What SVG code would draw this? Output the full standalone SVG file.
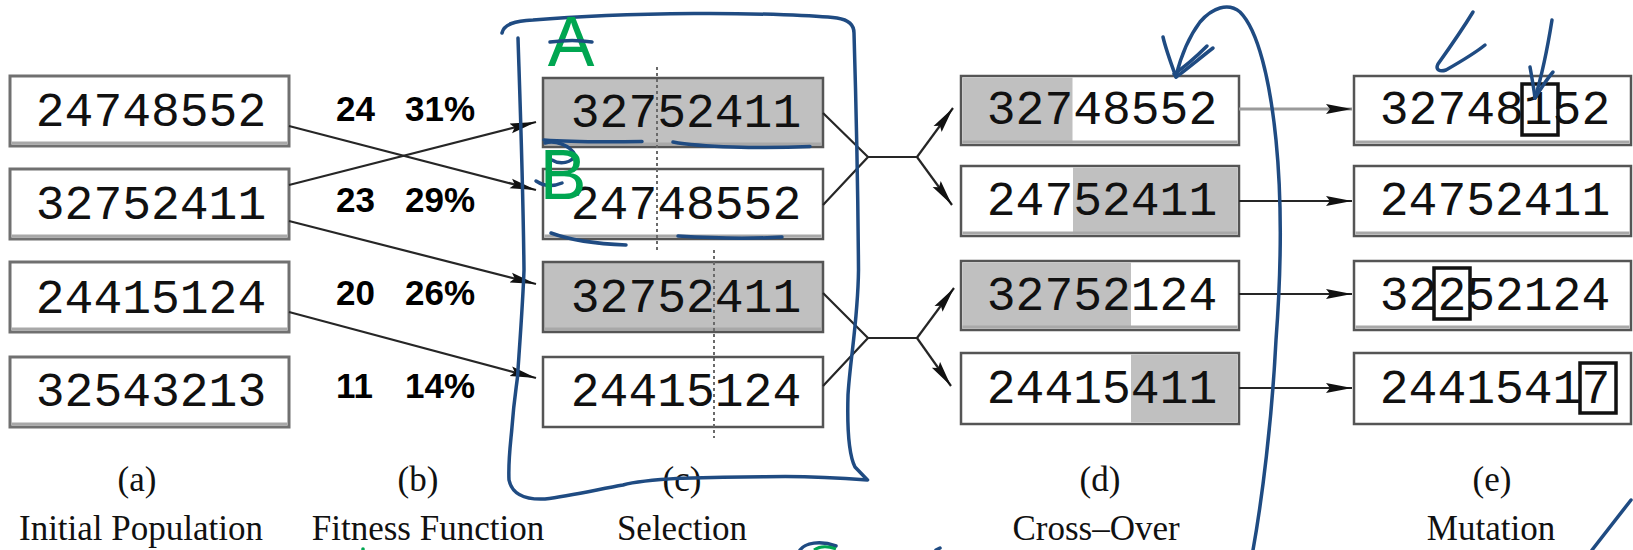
<svg xmlns="http://www.w3.org/2000/svg" width="1633" height="550" viewBox="0 0 1633 550">
  <defs>
    <style>
      .box { fill: #ffffff; stroke: #555555; stroke-width: 2.5; }
      .boxa { fill: #ffffff; stroke: #707070; stroke-width: 3; }
      .shade { fill: #c0c0c0; stroke: none; }
      .foot { stroke: #a8a8a8; stroke-width: 3; }
      .dig { font-family: "Liberation Mono", "Courier New", monospace; font-size: 48px; fill: #111111; text-anchor: middle; }
      .fit { font-family: "Liberation Sans", Arial, sans-serif; font-weight: bold; font-size: 35px; fill: #000000; }
      .lab { font-family: "Liberation Serif", "Times New Roman", serif; font-size: 35px; fill: #111111; text-anchor: middle; }
      .cut { stroke: #6a6a6a; stroke-width: 2; stroke-dasharray: 3 3; fill: none; }
      .mut { fill: none; stroke: #111111; stroke-width: 3.5; }
      .edge { fill: none; stroke: #262626; stroke-width: 2.2; }
      .ink { fill: none; stroke: #1f4b82; stroke-width: 3.5; stroke-linecap: round; stroke-linejoin: round; }
      .hand { font-family: "Liberation Sans", Arial, sans-serif; font-size: 70px; fill: #00a651; text-anchor: middle; }
    </style>
    <marker id="ah" markerUnits="userSpaceOnUse" markerWidth="28" markerHeight="12" refX="26" refY="6" orient="auto">
      <path d="M0,1 L26,6 L0,11 L4,6 z" fill="#111111"/>
    </marker>
  </defs>

  <!-- (a) initial population -->
  <g id="pop1"><rect class="boxa" x="10" y="76" width="279" height="70"/><line class="foot" x1="11.5" y1="143" x2="287.5" y2="143"/><text class="dig" x="151" y="126">24748552</text></g>
  <g id="pop2"><rect class="boxa" x="10" y="169" width="279" height="70"/><line class="foot" x1="11.5" y1="236" x2="287.5" y2="236"/><text class="dig" x="151" y="219">32752411</text></g>
  <g id="pop3"><rect class="boxa" x="10" y="262" width="279" height="70"/><line class="foot" x1="11.5" y1="329" x2="287.5" y2="329"/><text class="dig" x="151" y="313">24415124</text></g>
  <g id="pop4"><rect class="boxa" x="10" y="357" width="279" height="70"/><line class="foot" x1="11.5" y1="424" x2="287.5" y2="424"/><text class="dig" x="151" y="406">32543213</text></g>

  <!-- (b) fitness values -->
  <g id="fit1"><text class="fit" x="336" y="121">24</text><text class="fit" x="405" y="121">31%</text></g>
  <g id="fit2"><text class="fit" x="336" y="212">23</text><text class="fit" x="405" y="212">29%</text></g>
  <g id="fit3"><text class="fit" x="336" y="305">20</text><text class="fit" x="405" y="305">26%</text></g>
  <g id="fit4"><text class="fit" x="336" y="398">11</text><text class="fit" x="405" y="398">14%</text></g>

  <!-- (c) selection -->
  <g id="sel1"><rect class="box" x="543" y="78" width="280" height="69" style="fill:#c0c0c0"/><line class="foot" x1="544.5" y1="144" x2="821.5" y2="144"/><text class="dig" x="686" y="127">32752411</text></g>
  <g id="sel2"><rect class="box" x="543" y="169" width="280" height="70"/><line class="foot" x1="544.5" y1="236" x2="821.5" y2="236"/><text class="dig" x="686" y="219">24748552</text></g>
  <g id="sel3"><rect class="box" x="543" y="262" width="280" height="70" style="fill:#c0c0c0"/><line class="foot" x1="544.5" y1="329" x2="821.5" y2="329"/><text class="dig" x="686" y="312">32752411</text></g>
  <g id="sel4"><rect class="box" x="543" y="357" width="280" height="70"/><text class="dig" x="686" y="406">24415124</text></g>
  <g id="cuts">
    <line class="cut" x1="657" y1="67" x2="657" y2="252"/>
    <line class="cut" x1="714" y1="250" x2="714" y2="438"/>
  </g>

  <!-- (d) cross-over -->
  <g id="cross1"><rect class="box" x="961" y="76" width="278" height="69"/><rect class="shade" x="962.5" y="77.5" width="110" height="66"/><line class="foot" x1="962.5" y1="142" x2="1237.5" y2="142"/><text class="dig" x="1102" y="124">32748552</text></g>
  <g id="cross2"><rect class="box" x="961" y="166" width="278" height="70"/><rect class="shade" x="1073" y="167.5" width="164.5" height="67"/><line class="foot" x1="962.5" y1="233" x2="1237.5" y2="233"/><text class="dig" x="1102" y="215">24752411</text></g>
  <g id="cross3"><rect class="box" x="961" y="261" width="278" height="69"/><rect class="shade" x="962.5" y="262.5" width="168.5" height="66"/><line class="foot" x1="962.5" y1="327" x2="1237.5" y2="327"/><text class="dig" x="1102" y="310">32752124</text></g>
  <g id="cross4"><rect class="box" x="961" y="353" width="278" height="71"/><rect class="shade" x="1131" y="354.5" width="106.5" height="68"/><text class="dig" x="1102" y="403">24415411</text></g>

  <!-- (e) mutation -->
  <g id="mut1"><rect class="box" x="1354" y="76" width="277" height="69"/><line class="foot" x1="1355.5" y1="142" x2="1629.5" y2="142"/><text class="dig" x="1495" y="124">32748152</text><rect class="mut" x="1522" y="84" width="36" height="51"/></g>
  <g id="mut2"><rect class="box" x="1354" y="166" width="277" height="70"/><line class="foot" x1="1355.5" y1="233" x2="1629.5" y2="233"/><text class="dig" x="1495" y="215">24752411</text></g>
  <g id="mut3"><rect class="box" x="1354" y="261" width="277" height="69"/><line class="foot" x1="1355.5" y1="327" x2="1629.5" y2="327"/><text class="dig" x="1495" y="310">32252124</text><rect class="mut" x="1434" y="268" width="36" height="51"/></g>
  <g id="mut4"><rect class="box" x="1354" y="353" width="277" height="71"/><text class="dig" x="1495" y="403">24415417</text><rect class="mut" x="1580" y="363" width="36" height="50"/></g>

  <!-- stage captions -->
  <g id="captions">
    <text class="lab" x="137" y="491">(a)</text>
    <text class="lab" x="141" y="540">Initial Population</text>
    <text class="lab" x="418" y="491">(b)</text>
    <text class="lab" x="428" y="540">Fitness Function</text>
    <text class="lab" x="682" y="491">(c)</text>
    <text class="lab" x="682" y="540">Selection</text>
    <text class="lab" x="1100" y="491">(d)</text>
    <text class="lab" x="1096" y="540">Cross–Over</text>
    <text class="lab" x="1492" y="491">(e)</text>
    <text class="lab" x="1491" y="540">Mutation</text>
  </g>

  <!-- connectors -->
  <g id="connectors">
    <line class="edge" x1="289" y1="126" x2="536" y2="190" marker-end="url(#ah)"/>
    <line class="edge" x1="289" y1="185" x2="536" y2="122" marker-end="url(#ah)"/>
    <line class="edge" x1="289" y1="221" x2="536" y2="284" marker-end="url(#ah)"/>
    <line class="edge" x1="289" y1="312" x2="536" y2="378" marker-end="url(#ah)"/>

    <path class="edge" d="M823,113 L868,157 L823,205"/>
    <path class="edge" d="M868,157 H917"/>
    <line class="edge" x1="917" y1="157" x2="953" y2="108" marker-end="url(#ah)"/>
    <line class="edge" x1="917" y1="157" x2="952" y2="205" marker-end="url(#ah)"/>

    <path class="edge" d="M823,293 L868,338 L823,386"/>
    <path class="edge" d="M868,338 H917"/>
    <line class="edge" x1="917" y1="338" x2="954" y2="288" marker-end="url(#ah)"/>
    <line class="edge" x1="917" y1="338" x2="951" y2="386" marker-end="url(#ah)"/>

    <line x1="1239" y1="109" x2="1352" y2="109" stroke="#9a9a9a" stroke-width="3" marker-end="url(#ah)"/>
    <line class="edge" x1="1239" y1="201" x2="1352" y2="201" marker-end="url(#ah)"/>
    <line class="edge" x1="1239" y1="294" x2="1352" y2="294" marker-end="url(#ah)"/>
    <line class="edge" x1="1239" y1="388" x2="1352" y2="388" marker-end="url(#ah)"/>
  </g>

  <!-- pen markup drawn over the figure -->
  <g id="markup">
    <path class="ink" d="M502,33 C504,24 515,21 533,20 C580,16 640,14 694,13.5 C760,13 820,16 837,18 C850,20 854,26 854,33 C856,100 858,200 858.5,270 C858,320 850,360 848,395 C847,430 849,455 855,467 L867.5,480 C830,477 790,476 765,476.7 C720,477 690,478 680,478.3 C650,480 630,483 623,485 C600,489 570,496 545,499 C525,500 512,494 509,480 C508,460 511,440 512,427 C514,400 516,390 517.5,377 C520,340 523,300 524,270 C523,180 520,100 518,38"/>
    <path class="ink" d="M544,140 C570,142 610,142 642,141.5"/>
    <path class="ink" d="M673,142 C700,147 760,149 810,146.5"/>
    <path class="ink" d="M551,233 C570,240 600,244 626,245"/>
    <path class="ink" d="M678,236 C710,238 750,239 782,237"/>
    <path class="ink" d="M545,143 C555,140 570,145 575,155 C572,163 560,165 552,160"/>
    <path class="ink" d="M536,181 C545,187 555,186 562,183"/>
    <text class="hand" x="571" y="66">A</text>
    <text class="hand" x="563" y="199">B</text>
    <path class="ink" d="M550,42 C565,40 580,40 592,42"/>

    <path class="ink" d="M1253,550 C1262,500 1272,420 1276,340 C1282,260 1282,200 1276,140 C1270,80 1258,30 1240,12 C1228,2 1212,8 1200,22 C1188,38 1180,60 1176,76"/>
    <path class="ink" d="M1163,37 C1166,50 1172,66 1176,77"/>
    <path class="ink" d="M1213,48 C1200,58 1186,70 1176,77"/>
    <path class="ink" d="M1207,46 C1195,58 1183,68 1174,74"/>

    <path class="ink" d="M1473,12 C1462,30 1448,50 1438,64 C1435,70 1440,72 1446,70 C1460,62 1474,54 1485,45"/>
    <path class="ink" d="M1552,20 C1548,45 1542,75 1535,98"/>
    <path class="ink" d="M1530,67 C1532,78 1534,90 1535,98"/>
    <path class="ink" d="M1553,72 C1546,80 1540,90 1535,98"/>

    <path class="ink" d="M1631,500 L1592,550"/>
    <path class="ink" d="M800,550 C805,543 820,540 836,546"/>
    <path d="M814,550 C820,546 828,546 836,549" fill="none" stroke="#00a651" stroke-width="3"/>
    <circle cx="363" cy="549" r="1.8" fill="#00a651"/>
    <path class="ink" d="M936,550 L940,548"/>
  </g>
</svg>
